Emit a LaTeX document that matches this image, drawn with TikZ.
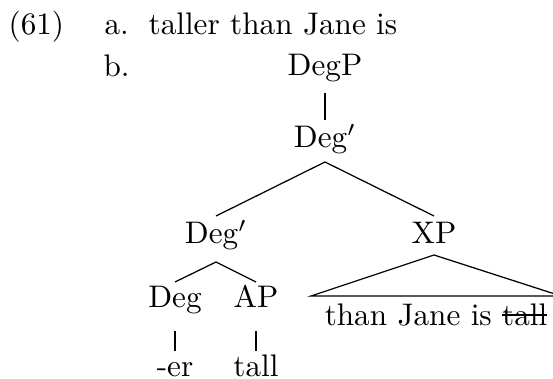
\documentclass[tikz,border=0pt]{standalone}
\usetikzlibrary{calc}
\newcommand\mystrk[1]{\setbox0\hbox{#1}\rlap{\rule[3.3pt]{\wd0}{0.4pt}}\box0}
\begin{document}
\begin{tikzpicture}[x=0.3205pt,y=-0.3205pt,
  lbl/.style={inner sep=0pt,anchor=base},
  txtw/.style={inner sep=0pt,anchor=base west},
  edge/.style={line width=0.4pt}]
\useasboundingbox (0,0) rectangle (553,379);
\node[txtw] (num) at (8,35) {(61)};
\node[txtw] (ia) at (104,35) {a.};
\node[txtw] (sa) at (148,35) {taller than Jane is};
\node[txtw] (ib) at (103,77) {b.};
\node[lbl] (degp) at (325,76) {DegP};
\node[lbl] (d1) at (325,148) {Deg$'$};
\node[lbl] (d2) at (216,244) {Deg$'$};
\node[lbl] (xp) at (434,244) {XP};
\node[lbl] (deg) at (175,308) {Deg};
\node[lbl] (ap) at (256,308) {AP};
\node[lbl] (er) at (175,377) {-er};
\node[lbl] (tall) at (256,377) {tall};
\node[lbl] (than) at (436,326) {than Jane is \mystrk{tall}};
\draw[edge] ($(degp.base)+(0,17)$) -- ($(d1.base)+(0,-28)$);
\draw[edge] ($(d2.base)+(0,-28)$) -- ($(d1.base)+(0,14)$) -- ($(xp.base)+(0,-28)$);
\draw[edge] ($(deg.base)+(0,-26)$) -- ($(d2.base)+(0,18)$) -- ($(ap.base)+(0,-26)$);
\draw[edge] ($(deg.base)+(0,23)$) -- ($(er.base)+(0,-26)$);
\draw[edge] ($(ap.base)+(0,23)$) -- ($(tall.base)+(0,-26)$);
\draw[edge] ($(than.base)+(-125,-30)$) -- ($(xp.base)+(0,11)$) -- ($(than.base)+(125,-30)$) -- cycle;
\end{tikzpicture}
\end{document}
